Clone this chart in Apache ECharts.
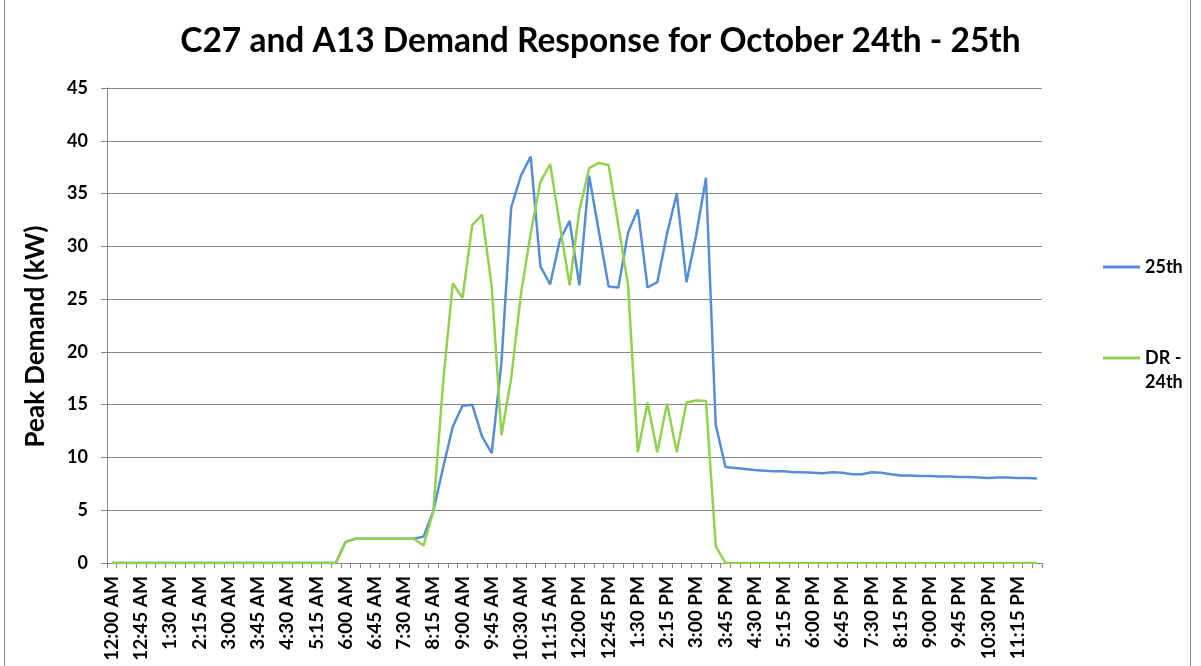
<!DOCTYPE html>
<html>
<head>
<meta charset="utf-8">
<title>C27 and A13 Demand Response</title>
<script src="https://cdn.jsdelivr.net/npm/echarts@6/dist/echarts.min.js"></script>
<style>
  html, body { margin: 0; padding: 0; background: #ffffff; }
  #wrap { position: relative; width: 1201px; height: 666px; overflow: hidden; }
  #chart { position: absolute; left: 0; top: 0; width: 1201px; height: 666px; }
  #frame { position: absolute; left: 4px; top: 0; width: 1185px; height: 700px;
           border-left: 1px solid #868686; border-right: 1px solid #868686; pointer-events: none; }
</style>
</head>
<body>
<div id="wrap">
  <div id="chart"></div>
  <div id="frame"></div>
</div>
<script>
// 15-minute interval labels for one day: 12:00 AM ... 11:45 PM
const timeLabels = [];
for (let h = 0; h < 24; h++) {
  for (let m = 0; m < 60; m += 15) {
    const hr = h % 12 === 0 ? 12 : h % 12;
    const mm = m === 0 ? '00' : String(m);
    timeLabels.push(hr + ':' + mm + ' ' + (h < 12 ? 'AM' : 'PM'));
  }
}

// Peak demand (kW), October 25th
const demand25th = [
  0, 0, 0, 0, 0, 0, 0, 0, 0, 0, 0, 0,
  0, 0, 0, 0, 0, 0, 0, 0, 0, 0, 0, 0,
  2.0, 2.3, 2.3, 2.3, 2.3, 2.3, 2.3, 2.3, 2.5, 4.9, 9.0, 12.9,
  14.9, 15.0, 12.0, 10.4, 19.0, 33.7, 36.7, 38.5, 28.1, 26.4, 30.6, 32.4,
  26.3, 36.7, 31.4, 26.2, 26.1, 31.3, 33.5, 26.1, 26.6, 31.2, 35.0, 26.6,
  31.1, 36.5, 13.1, 9.1, 9.0, 8.9, 8.8, 8.75, 8.7, 8.7, 8.6, 8.6,
  8.55, 8.5, 8.6, 8.55, 8.4, 8.4, 8.6, 8.55, 8.4, 8.3, 8.3, 8.25,
  8.25, 8.2, 8.2, 8.15, 8.15, 8.1, 8.05, 8.1, 8.1, 8.05, 8.05, 8.0
];

// Peak demand (kW), demand-response day October 24th
const demandDR24th = [
  0, 0, 0, 0, 0, 0, 0, 0, 0, 0, 0, 0,
  0, 0, 0, 0, 0, 0, 0, 0, 0, 0, 0, 0,
  2.0, 2.3, 2.3, 2.3, 2.3, 2.3, 2.3, 2.3, 1.65, 4.9, 17.0, 26.5,
  25.1, 32.0, 33.0, 26.2, 12.1, 17.5, 25.5, 31.2, 36.1, 37.8, 32.0, 26.3,
  33.4, 37.4, 37.9, 37.7, 32.0, 26.3, 10.5, 15.2, 10.5, 15.1, 10.5, 15.2,
  15.4, 15.35, 1.6, 0, 0, 0, 0, 0, 0, 0, 0, 0,
  0, 0, 0, 0, 0, 0, 0, 0, 0, 0, 0, 0,
  0, 0, 0, 0, 0, 0, 0, 0, 0, 0, 0, 0
];

const seriesNames = ['25th', 'DR - 24th'];
const seriesColors = ['#558ED5', '#92D050'];

const FONT = 'Lato, "Open Sans", sans-serif';
const GRAY = '#868686';

const chart = echarts.init(document.getElementById('chart'), null, { renderer: 'canvas' });

const legendText = {
  fontFamily: FONT, fontWeight: 'bold', fontSize: 18, color: '#000', lineHeight: 24
};

chart.setOption({
  animation: false,
  backgroundColor: '#ffffff',
  title: {
    text: 'C27 and A13 Demand Response for October 24th - 25th',
    left: 'center',
    top: 24,
    padding: [0, 0, 0, 32],
    textStyle: { fontFamily: FONT, fontWeight: 'bold', fontSize: 33.5, color: '#000' }
  },
  legend: [
    {
      data: [seriesNames[0]],
      orient: 'vertical',
      left: 1098, top: 250,
      icon: 'rect', itemWidth: 37, itemHeight: 3,
      textStyle: legendText
    },
    {
      data: [seriesNames[1]],
      orient: 'vertical',
      left: 1098, top: 317,
      icon: 'rect', itemWidth: 37, itemHeight: 3,
      // blank first line keeps the key beside "DR -"
      formatter: function () { return ' \nDR -\n24th'; },
      textStyle: legendText
    }
  ],
  grid: { left: 107, right: 159, top: 88, bottom: 103, containLabel: false },
  xAxis: {
    type: 'category',
    data: timeLabels,
    boundaryGap: true,
    axisLine: { lineStyle: { color: GRAY, width: 1 } },
    axisTick: { show: true, interval: 0, length: 5, lineStyle: { color: GRAY } },
    axisLabel: {
      interval: 2, rotate: 90, margin: 13,
      fontFamily: FONT, fontWeight: 'bold', fontSize: 19, color: '#000'
    },
    splitLine: { show: false }
  },
  yAxis: {
    type: 'value',
    min: 0, max: 45, interval: 5,
    name: 'Peak Demand (kW)',
    nameLocation: 'middle',
    nameGap: 58,
    nameTextStyle: {
      fontFamily: FONT, fontWeight: 'bold', fontSize: 26, color: '#000',
      padding: [0, 22, 0, 0]
    },
    axisLine: { show: true, lineStyle: { color: GRAY, width: 1 } },
    axisTick: { show: true, length: 6, lineStyle: { color: GRAY } },
    axisLabel: { margin: 19, fontFamily: FONT, fontWeight: 'bold', fontSize: 18, color: '#000' },
    splitLine: { show: true, lineStyle: { color: GRAY, width: 1 } }
  },
  series: [
    {
      name: seriesNames[0], type: 'line', data: demand25th,
      symbol: 'none', smooth: false,
      lineStyle: { color: seriesColors[0], width: 2.5 },
      itemStyle: { color: seriesColors[0] }
    },
    {
      name: seriesNames[1], type: 'line', data: demandDR24th,
      symbol: 'none', smooth: false,
      lineStyle: { color: seriesColors[1], width: 2.5 },
      itemStyle: { color: seriesColors[1] }
    }
  ]
});
</script>
</body>
</html>
